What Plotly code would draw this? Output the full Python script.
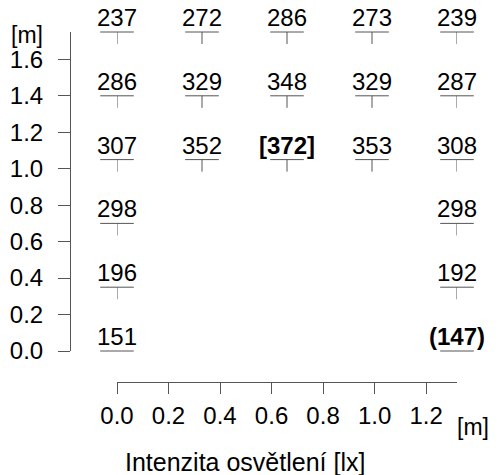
import plotly.graph_objects as go

# ---- data ----
x_pos = [0.0, 0.33, 0.66, 0.99, 1.32,
         0.0, 0.33, 0.66, 0.99, 1.32,
         0.0, 0.33, 0.66, 0.99, 1.32,
         0.0, 1.32,
         0.0, 1.32,
         0.0, 1.32]
y_pos = [1.75, 1.75, 1.75, 1.75, 1.75,
         1.40, 1.40, 1.40, 1.40, 1.40,
         1.05, 1.05, 1.05, 1.05, 1.05,
         0.70, 0.70,
         0.35, 0.35,
         0.00, 0.00]
values = ["237", "272", "286", "273", "239",
          "286", "329", "348", "329", "287",
          "307", "352", "<b>[372]</b>", "353", "308",
          "298", "298",
          "196", "192",
          "151", "<b>(147)</b>"]
x_ticks = [0.0, 0.2, 0.4, 0.6, 0.8, 1.0, 1.2]
y_ticks = [0.0, 0.2, 0.4, 0.6, 0.8, 1.0, 1.2, 1.4, 1.6]

# ---- style ----
OFF = 8                      # default page body margin
W, H = 499 - OFF, 475 - OFF  # figure size


def px(x):
    return (x - OFF) / W


def py(y):
    return (H - (y - OFF)) / H


FONT = "Liberation Sans, Arial, Helvetica, sans-serif"
FS = 24
GREY = "#555555"
TICK_DOWN = 0.066

n = len(x_pos)
fig = go.Figure()

# T-shaped markers
fig.add_trace(go.Scatter(
    x=x_pos, y=y_pos, mode="markers", cliponaxis=False, hoverinfo="skip",
    marker=dict(symbol="line-ew", size=24, line=dict(width=1, color=GREY), color=GREY),
    error_y=dict(type="data", symmetric=False, array=[0] * n,
                 arrayminus=[TICK_DOWN] * n, width=0, thickness=1, color=GREY),
    showlegend=False,
))

# value labels
fig.add_trace(go.Scatter(
    x=x_pos, y=y_pos, mode="text", cliponaxis=False, hoverinfo="skip",
    text=values, textposition="top center",
    textfont=dict(family=FONT, size=FS, color="black"),
    showlegend=False,
))

axis_common = dict(showline=True, linecolor=GREY, linewidth=1, ticks="outside",
                   tickcolor=GREY, tickwidth=1, showgrid=False, zeroline=False,
                   tickformat=".1f", tickfont=dict(family=FONT, size=FS, color="black"),
                   anchor="free", automargin=False, fixedrange=True)

fig.update_layout(
    width=W, height=H,
    margin=dict(l=0, r=0, t=0, b=0, autoexpand=False),
    paper_bgcolor="white", plot_bgcolor="white",
    font=dict(family=FONT, size=FS, color="black"),
    xaxis=dict(axis_common, domain=[px(117), px(457)], range=[0, 1.32],
               position=py(382), tickvals=x_ticks, ticklen=11,
               ticklabelstandoff=1),
    yaxis=dict(axis_common, domain=[py(351), py(32)], range=[0, 1.75],
               position=px(70), tickvals=y_ticks, ticklen=12,
               ticklabelstandoff=10),
    annotations=[
        dict(text="[m]", xref="paper", yref="paper", x=px(45), y=py(35),
             xanchor="right", yanchor="middle", showarrow=False,
             font=dict(family=FONT, size=23)),
        dict(text="[m]", xref="paper", yref="paper", x=px(473), y=py(427),
             xanchor="center", yanchor="middle", showarrow=False,
             font=dict(family=FONT, size=23)),
        dict(text="Intenzita osvětlení [lx]", xref="paper", yref="paper",
             x=px(245), y=py(462), xanchor="center", yanchor="middle",
             showarrow=False, font=dict(family=FONT, size=25)),
    ],
)

fig.write_html("out.html")
